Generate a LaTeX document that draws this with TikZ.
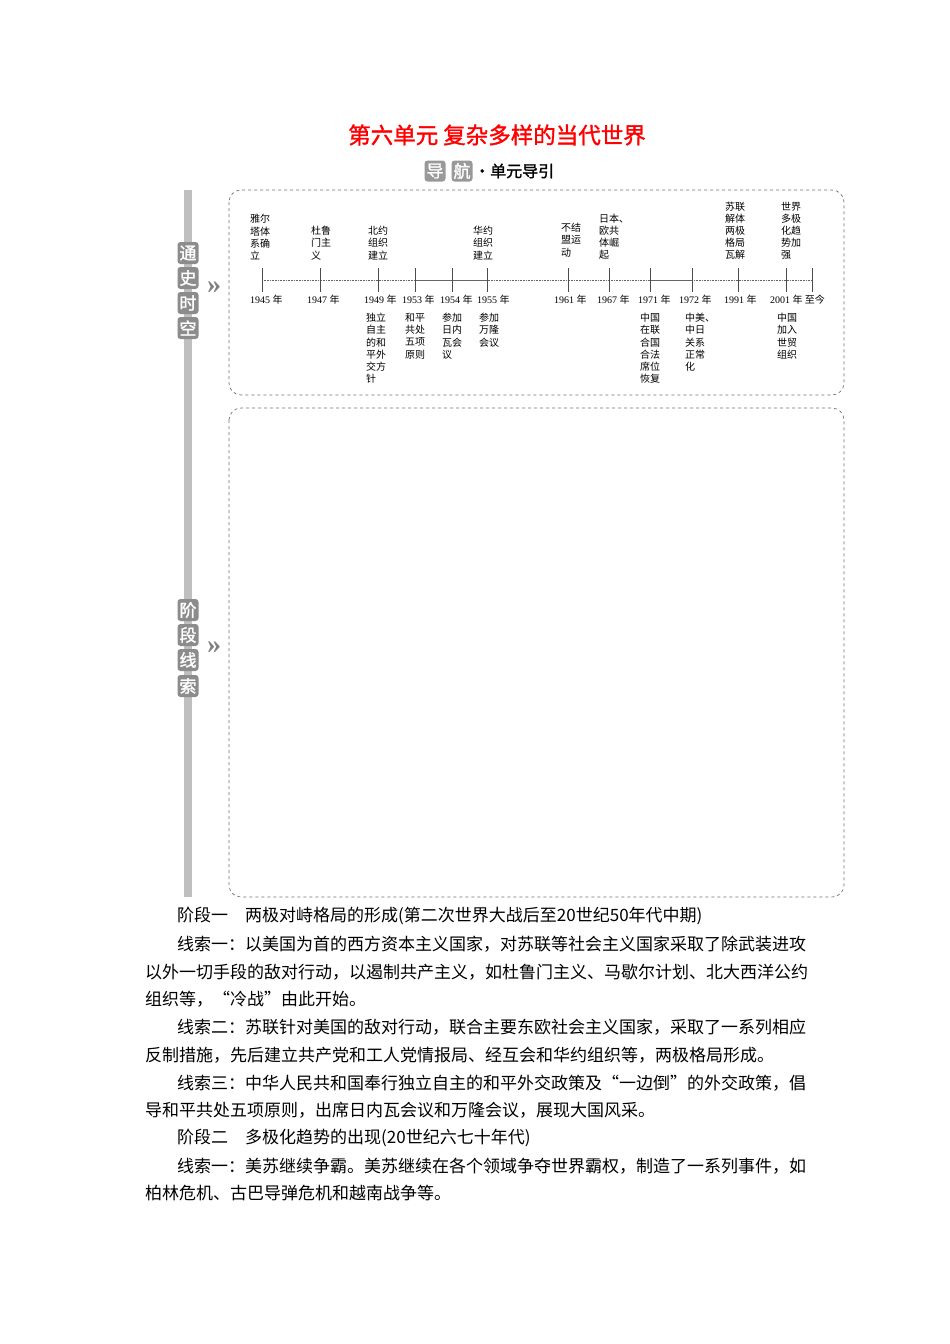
\documentclass[tikz,border=0pt]{standalone}
\usepackage{fontspec}
\setmainfont{Liberation Serif}
\newfontfamily\cjk{Noto Sans CJK SC}
\newfontfamily\cjkb{Noto Sans CJK SC}[FakeBold=1.5]
\begin{document}
\begin{tikzpicture}[x=1pt,y=-1pt,
  lab/.style={font=\fontsize{10}{12.2}\selectfont\cjk,align=left,inner sep=0pt},
  yr/.style={font=\fontsize{10}{12}\selectfont,inner sep=0pt,anchor=west},
  tk/.style={line width=0.6pt,draw=black!70},
  frame/.style={draw=black!55,dashed,rounded corners=12pt,line width=0.7pt},
  side/.style={fill=black!45,text=white,rounded corners=3pt,minimum width=21pt,minimum height=22pt,inner sep=0pt,font=\fontsize{17}{17}\selectfont\cjkb},
  body/.style={anchor=west,inner sep=0pt,font=\fontsize{17}{17}\selectfont\cjk}]
\useasboundingbox[fill=white] (0,0) rectangle (950,1344);
\node[text=red,font=\fontsize{22.5}{22.5}\selectfont\cjkb] (title) at (497,135) {第六单元\ 复杂多样的当代世界};
\node[side,minimum size=21pt,fill=black!40] (dao) at (435,171) {导};
\node[side,minimum size=21pt,fill=black!40] (hang) at (462,171) {航};
\node[anchor=west,inner sep=0pt,font=\fontsize{16}{16}\selectfont\cjkb] (guide) at (474,171) {·单元导引};
% side bar
\fill[black!25] (184,190) rectangle (192,897);
\foreach \c/\y [count=\i] in {通/253,史/278,时/303,空/328}{\node[side] (s\i) at (188,\y) {\c};}
\foreach \c/\y [count=\i] in {阶/610,段/635,线/660,索/686}{\node[side] (t\i) at (188,\y) {\c};}
\node[text=black!50,font=\fontsize{28}{28}\selectfont\bfseries] (ar1) at (214,288) {»};
\node[text=black!50,font=\fontsize{28}{28}\selectfont\bfseries] (ar2) at (214,648) {»};
\draw[frame] (229,190) rectangle (844,395);
\draw[frame] (229,408) rectangle (844,897);
% axis
\draw[densely dotted,black!60,line width=0.6pt] (262,280) -- (812,280);
\draw[black!60,line width=1pt] (415,280) -- (487,280);
\draw[black!60,line width=1pt] (650,280) -- (692,280);
\foreach \x in {262,320,378,415,452,487,568,609,650,692,738,786,812}{\draw[tk] (\x,268) -- (\x,292);}
\node[yr] (y1) at (250,300) {1945 {\cjk 年}};
\node[yr] (y2) at (307,300) {1947 {\cjk 年}};
\node[yr] (y3) at (364,300) {1949 {\cjk 年}};
\node[yr] (y4) at (402,300) {1953 {\cjk 年}};
\node[yr] (y5) at (440,300) {1954 {\cjk 年}};
\node[yr] (y6) at (477,300) {1955 {\cjk 年}};
\node[yr] (y7) at (554,300) {1961 {\cjk 年}};
\node[yr] (y8) at (597,300) {1967 {\cjk 年}};
\node[yr] (y9) at (638,300) {1971 {\cjk 年}};
\node[yr] (y10) at (679,300) {1972 {\cjk 年}};
\node[yr] (y11) at (724,300) {1991 {\cjk 年}};
\node[yr] (y12) at (770,300) {2001 {\cjk 年 至今}};
% top labels
\node[lab,anchor=south west] (a1) at (250,260) {雅尔\\塔体\\系确\\立};
\node[lab,anchor=south west] (a2) at (311,260) {杜鲁\\门主\\义};
\node[lab,anchor=south west] (a3) at (368,260) {北约\\组织\\建立};
\node[lab,anchor=south west] (a4) at (473,260) {华约\\组织\\建立};
\node[lab,anchor=south west] (a5) at (561,257) {不结\\盟运\\动};
\node[lab,anchor=south west] (a6) at (599,260) {日本、\\欧共\\体崛\\起};
\node[lab,anchor=south west] (a7) at (725,260) {苏联\\解体\\两极\\格局\\瓦解};
\node[lab,anchor=south west] (a8) at (781,260) {世界\\多极\\化趋\\势加\\强};
% bottom labels
\node[lab,anchor=north west] (b1) at (366,313) {独立\\自主\\的和\\平外\\交方\\针};
\node[lab,anchor=north west] (b2) at (405,313) {和平\\共处\\五项\\原则};
\node[lab,anchor=north west] (b3) at (442,313) {参加\\日内\\瓦会\\议};
\node[lab,anchor=north west] (b4) at (479,313) {参加\\万隆\\会议};
\node[lab,anchor=north west] (b5) at (640,313) {中国\\在联\\合国\\合法\\席位\\恢复};
\node[lab,anchor=north west] (b6) at (685,313) {中美、\\中日\\关系\\正常\\化};
\node[lab,anchor=north west] (b7) at (777,313) {中国\\加入\\世贸\\组织};
% body text
\node[body] (l1) at (177,916) {阶段一\quad 两极对峙格局的形成(第二次世界大战后至20世纪50年代中期)};
\node[body] (l2) at (177,944) {线索一：以美国为首的西方资本主义国家，对苏联等社会主义国家采取了除武装进攻};
\node[body] (l3) at (145,972) {以外一切手段的敌对行动，以遏制共产主义，如杜鲁门主义、马歇尔计划、北大西洋公约};
\node[body] (l4) at (145,999) {组织等，“冷战”由此开始。};
\node[body] (l5) at (177,1027) {线索二：苏联针对美国的敌对行动，联合主要东欧社会主义国家，采取了一系列相应};
\node[body] (l6) at (145,1055) {反制措施，先后建立共产党和工人党情报局、经互会和华约组织等，两极格局形成。};
\node[body] (l7) at (177,1083) {线索三：中华人民共和国奉行独立自主的和平外交政策及“一边倒”的外交政策，倡};
\node[body] (l8) at (145,1110) {导和平共处五项原则，出席日内瓦会议和万隆会议，展现大国风采。};
\node[body] (l9) at (177,1138) {阶段二\quad 多极化趋势的出现(20世纪六七十年代)};
\node[body] (l10) at (177,1166) {线索一：美苏继续争霸。美苏继续在各个领域争夺世界霸权，制造了一系列事件，如};
\node[body] (l11) at (145,1193) {柏林危机、古巴导弹危机和越南战争等。};
\end{tikzpicture}
\end{document}
